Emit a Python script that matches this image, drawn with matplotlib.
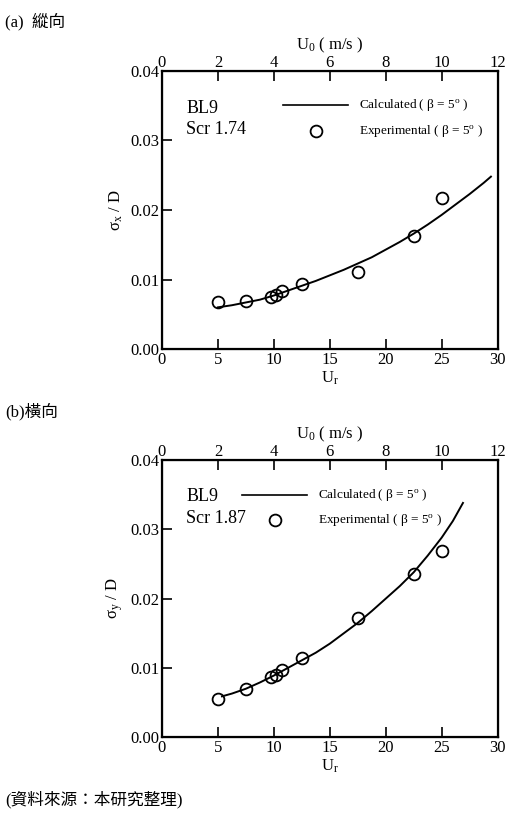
import matplotlib
matplotlib.use("Agg")
import matplotlib.pyplot as plt

plt.rcParams['font.family'] = ['Liberation Serif', 'DejaVu Serif']
plt.rcParams['mathtext.fontset'] = 'custom'
plt.rcParams['mathtext.rm'] = 'Liberation Serif'
plt.rcParams['mathtext.it'] = 'Liberation Serif:italic'

# ---- data (a) longitudinal ----
ur_exp_a = [5.0, 7.5, 9.7, 10.2, 10.7, 12.5, 17.5, 22.5, 25.0]
sx_exp = [0.0068, 0.0069, 0.0075, 0.0078, 0.0083, 0.0093, 0.0111, 0.0163, 0.0217]
ur_calc_a = [5.0, 6.25, 7.5, 8.75, 10.0, 11.25, 12.5, 13.75, 15.0, 16.25, 17.5,
             18.75, 20.0, 21.25, 22.5, 23.75, 25.0, 26.25, 27.5, 28.75, 29.4]
sx_calc = [0.0060, 0.0063, 0.0067, 0.0071, 0.0077, 0.0084, 0.0091, 0.0098, 0.0106,
           0.0114, 0.0123, 0.0132, 0.0143, 0.0154, 0.0166, 0.0179, 0.0193, 0.0208,
           0.0223, 0.0239, 0.0248]

# ---- data (b) transverse ----
ur_exp_b = [5.0, 7.5, 9.7, 10.2, 10.7, 12.5, 17.5, 22.5, 25.0]
sy_exp = [0.0055, 0.0069, 0.0087, 0.0090, 0.0097, 0.0114, 0.0172, 0.0235, 0.0269]
ur_calc_b = [5.36, 6.25, 7.5, 8.75, 10.0, 11.25, 12.5, 13.75, 15.0, 16.25, 17.5,
             18.75, 20.0, 21.25, 22.5, 23.75, 25.0, 26.0, 26.9]
sy_calc = [0.0059, 0.0063, 0.0070, 0.0079, 0.0089, 0.0100, 0.0111, 0.0122, 0.0135,
           0.0150, 0.0165, 0.0182, 0.0200, 0.0218, 0.0238, 0.0262, 0.0288, 0.0312,
           0.0338]

x_ticks = [0, 5, 10, 15, 20, 25, 30]
u0_ticks = [0, 2, 4, 6, 8, 10, 12]
y_ticks = [0.00, 0.01, 0.02, 0.03, 0.04]

fig = plt.figure(figsize=(5.18, 8.34), dpi=100)

def make_panel(rect, ur_c, s_c, ur_e, s_e, ylabel, scr, leg):
    ax = fig.add_axes(rect)
    ax.plot(ur_c, s_c, color='black', lw=1.4)
    ax.plot(ur_e, s_e, 'o', mfc='none', mec='black', ms=8.5, mew=1.3)
    ax.set_xlim(0, 30)
    ax.set_ylim(0, 0.04)
    ax.set_xticks(x_ticks)
    ax.set_yticks(y_ticks)
    ax.set_yticklabels(['%.2f' % v for v in y_ticks])
    ax.tick_params(direction='in', length=7, width=1.2, labelsize=12, pad=2,
                   top=False, right=False)
    for s in ax.spines.values():
        s.set_linewidth(1.6)
    ax.set_xlabel('U$_\\mathregular{r}$', fontsize=12, labelpad=1)
    ax.set_ylabel(ylabel, fontsize=12, labelpad=4)
    top = ax.twiny()
    top.set_xlim(0, 12)
    top.set_xticks(u0_ticks)
    top.tick_params(direction='in', length=7, width=1.2, labelsize=12, pad=0)
    top.set_xlabel('U$_\\mathregular{0}$ ( m/s )', fontsize=12, labelpad=4)
    # annotation text
    ax.text(0.072, leg['bl_y'], 'BL9', transform=ax.transAxes, fontsize=13,
            va='center', ha='left')
    ax.text(0.072, leg['scr_y'], 'Scr ' + scr, transform=ax.transAxes, fontsize=13,
            va='center', ha='left')
    # legend
    ax.plot(leg['line_x'], [leg['l1_y']] * 2, color='black', lw=1.2,
            transform=ax.transAxes, clip_on=False)
    ax.plot([leg['circ_x']], [leg['l2_y']], 'o', mfc='none', mec='black', ms=8.5,
            mew=1.3, transform=ax.transAxes)
    ax.text(leg['txt_x'], leg['l1_y'], 'Calculated ( β = 5$^{\\mathregular{o}}$ )',
            transform=ax.transAxes, fontsize=9.5, va='center', ha='left')
    ax.text(leg['txt_x'], leg['l2_y'], 'Experimental ( β = 5$^{\\mathregular{o}}$ )',
            transform=ax.transAxes, fontsize=9.5, va='center', ha='left')
    return ax

# axes geometry (fig fraction)
make_panel([0.3127, 0.5815, 0.648, 0.3334], ur_calc_a, sx_calc, ur_exp_a, sx_exp,
           'σ$_\\mathregular{x}$ / D', '1.74',
           dict(bl_y=0.865, scr_y=0.79, line_x=[0.361, 0.555], l1_y=0.878,
                circ_x=0.459, l2_y=0.783, txt_x=0.588))
make_panel([0.3127, 0.1160, 0.648, 0.3325], ur_calc_b, sy_calc, ur_exp_b, sy_exp,
           'σ$_\\mathregular{y}$ / D', '1.87',
           dict(bl_y=0.867, scr_y=0.790, line_x=[0.239, 0.433], l1_y=0.875,
                circ_x=0.337, l2_y=0.782, txt_x=0.465))

cjk = ['Liberation Serif', 'Noto Sans CJK TC']
fig.text(5 / 518, 1 - 22 / 834, '(a)  縱向', fontsize=12, family=cjk, va='center')
fig.text(5 / 518, 1 - 412 / 834, '(b)橫向', fontsize=12, family=cjk, va='center')
fig.text(5 / 518, 1 - 800 / 834, '(資料來源：本研究整理)', fontsize=12, family=cjk,
         va='center')

fig.savefig('out.png', dpi=100)
